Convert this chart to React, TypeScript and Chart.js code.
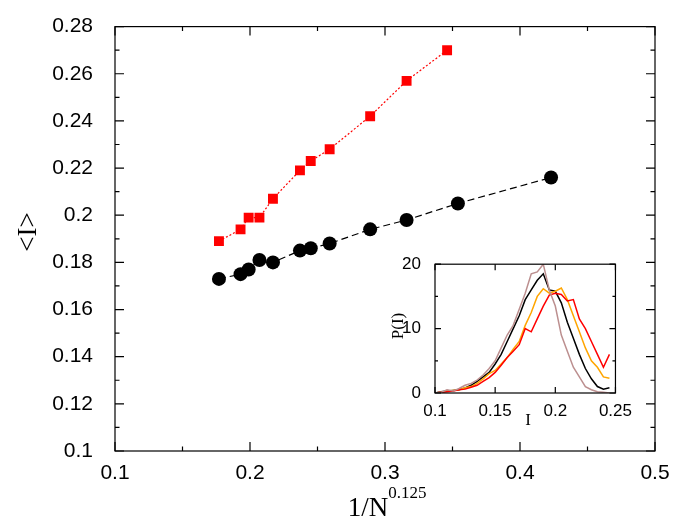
import React, { useEffect, useRef } from "react";
import { Chart, registerables } from "chart.js";

Chart.register(...registerables);

// main plot: <I> against 1/N^0.125
const blackX = [0.177, 0.193, 0.199, 0.207, 0.217, 0.237, 0.245, 0.259, 0.289, 0.316, 0.354, 0.423];
const blackY = [0.173, 0.175, 0.177, 0.181, 0.180, 0.185, 0.186, 0.188, 0.194, 0.198, 0.205, 0.216];
const redX = [0.177, 0.193, 0.199, 0.207, 0.217, 0.237, 0.245, 0.259, 0.289, 0.316, 0.346];
const redY = [0.189, 0.194, 0.199, 0.199, 0.207, 0.219, 0.223, 0.228, 0.242, 0.257, 0.270];

// inset: P(I)
const insetI = [0.1, 0.105, 0.11, 0.115, 0.12, 0.125, 0.13, 0.135, 0.14, 0.145, 0.15, 0.155, 0.16, 0.165, 0.17, 0.175, 0.18, 0.185, 0.19, 0.195, 0.2, 0.205, 0.21, 0.215, 0.22, 0.225, 0.23, 0.235, 0.24, 0.245];
const pBlack = [0, 0.2, 0.3, 0.4, 0.5, 0.8, 1.2, 1.8, 2.5, 3.2, 4.5, 6, 8, 10, 12, 14.5, 16, 17.5, 18.5, 16, 15.8, 14, 11, 8.5, 6, 3.8, 2.2, 1, 0.6, 0.8];
const pBrown = [0, 0.1, 0.5, 0.3, 0.7, 1.2, 1.5, 2, 2.8, 3.8, 5, 7, 9, 10.5, 13, 15.5, 18.5, 18.8, 20, 16, 13.5, 9, 6.5, 4, 2.5, 1, 0.5, 0.2, 0.1, 0];
const pOrange = [0, 0.1, 0.3, 0.4, 0.5, 0.8, 1, 1.5, 2.2, 3, 3.5, 4.5, 5.5, 6.8, 8, 10.5, 12.5, 15, 16.2, 15.5, 15.8, 16.3, 14.5, 12, 9.5, 7, 5, 4, 2.5, 2.3];
const pRed = [0, 0.1, 0.2, 0.3, 0.5, 0.6, 0.9, 1.2, 1.8, 2.4, 3.2, 4.3, 5.5, 6.5, 7.5, 10, 9.5, 11.5, 13.5, 15.2, 15.5, 15.3, 14.3, 14.5, 11.5, 10, 8, 6, 4, 6];

const tickFont = "Liberation Sans, Arial, sans-serif";
const serif = "Liberation Serif, Times New Roman, serif";

const pts = (xs: number[], ys: number[]) => xs.map((x, i) => ({ x, y: ys[i] }));
const fmt = (v: any) => String(+(+v).toFixed(2));

// inward ticks on all four sides plus frame
const frame = (xStep: number, xMinor: number, yStep: number, yMinor: number, len: number) => ({
  id: "frame",
  afterDraw(chart: any) {
    const { ctx, chartArea: a, scales } = chart;
    const xs = scales.x, ys = scales.y;
    ctx.save();
    ctx.strokeStyle = "#000";
    ctx.lineWidth = 1.2;
    ctx.strokeRect(a.left, a.top, a.right - a.left, a.bottom - a.top);
    const n = Math.round((xs.max - xs.min) / xMinor);
    for (let i = 0; i <= n; i++) {
      const v = xs.min + i * xMinor;
      const px = xs.getPixelForValue(v);
      const major = Math.abs(v / xStep - Math.round(v / xStep)) < 1e-6;
      const l = major ? len : len / 2;
      ctx.beginPath();
      ctx.moveTo(px, a.bottom); ctx.lineTo(px, a.bottom - l);
      ctx.moveTo(px, a.top); ctx.lineTo(px, a.top + l);
      ctx.stroke();
    }
    const m = Math.round((ys.max - ys.min) / yMinor);
    for (let i = 0; i <= m; i++) {
      const v = ys.min + i * yMinor;
      const py = ys.getPixelForValue(v);
      const major = Math.abs((v - ys.min) / yStep - Math.round((v - ys.min) / yStep)) < 1e-6;
      const l = major ? len : len / 2;
      ctx.beginPath();
      ctx.moveTo(a.left, py); ctx.lineTo(a.left + l, py);
      ctx.moveTo(a.right, py); ctx.lineTo(a.right - l, py);
      ctx.stroke();
    }
    ctx.restore();
  },
});

const mainTitles = {
  id: "mainTitles",
  afterDraw(chart: any) {
    const { ctx } = chart;
    ctx.save();
    ctx.fillStyle = "#000";
    ctx.textBaseline = "alphabetic";
    ctx.font = `27px ${serif}`;
    const base = "1/N";
    const w = ctx.measureText(base).width;
    ctx.font = `17px ${serif}`;
    const sw = ctx.measureText("0.125").width;
    const x0 = 387 - (w + sw) / 2;
    ctx.font = `27px ${serif}`;
    ctx.fillText(base, x0, 516);
    ctx.font = `17px ${serif}`;
    ctx.fillText("0.125", x0 + w, 498);
    ctx.translate(36, 232);
    ctx.rotate(-Math.PI / 2);
    ctx.textAlign = "center";
    ctx.font = `27px ${serif}`;
    ctx.fillText("<I>", 0, 0);
    ctx.restore();
  },
};

const insetTitles = {
  id: "insetTitles",
  afterDraw(chart: any) {
    const { ctx } = chart;
    ctx.save();
    ctx.fillStyle = "#000";
    ctx.textAlign = "center";
    ctx.font = `17px ${serif}`;
    ctx.fillText("I", 138, 177);
    ctx.translate(13, 78);
    ctx.rotate(-Math.PI / 2);
    ctx.fillText("P(I)", 0, 0);
    ctx.restore();
  },
};

function MainChart() {
  const ref = useRef<HTMLCanvasElement>(null);
  useEffect(() => {
    if (!ref.current) return;
    const chart = new Chart(ref.current, {
      type: "scatter",
      data: {
        datasets: [
          {
            data: pts(redX, redY),
            showLine: true,
            borderColor: "#ff0000",
            borderWidth: 1.2,
            borderDash: [2, 2],
            backgroundColor: "#ff0000",
            pointStyle: "rect",
            pointRadius: 7,
            pointBorderWidth: 0,
          },
          {
            data: pts(blackX, blackY),
            showLine: true,
            borderColor: "#000",
            borderWidth: 1.2,
            borderDash: [7, 4],
            backgroundColor: "#000",
            pointRadius: 7,
            pointBorderWidth: 0,
          },
        ],
      },
      options: {
        animation: false,
        responsive: false,
        layout: { padding: { top: 10, right: 35, left: 0, bottom: 0 } },
        plugins: { legend: { display: false }, tooltip: { enabled: false } },
        scales: {
          x: {
            type: "linear", min: 0.1, max: 0.5,
            grid: { display: false }, border: { display: false },
            ticks: { stepSize: 0.1, color: "#000", font: { family: tickFont, size: 21 }, padding: 2, callback: fmt },
            afterFit: (s: any) => { s.height = 73; },
          },
          y: {
            type: "linear", min: 0.1, max: 0.28,
            grid: { display: false }, border: { display: false },
            ticks: { stepSize: 0.02, color: "#000", font: { family: tickFont, size: 21 }, padding: 14, callback: fmt },
            afterFit: (s: any) => { s.width = 115; },
          },
        },
      },
      plugins: [frame(0.1, 0.05, 0.02, 0.01, 9), mainTitles],
    });
    return () => chart.destroy();
  }, []);
  return <canvas ref={ref} width={690} height={524} style={{ position: "absolute", left: 0, top: 0 }} />;
}

function InsetChart() {
  const ref = useRef<HTMLCanvasElement>(null);
  useEffect(() => {
    if (!ref.current) return;
    const line = (ys: number[], color: string) => ({
      data: pts(insetI, ys),
      showLine: true,
      borderColor: color,
      borderWidth: 1.5,
      pointRadius: 0,
    });
    const chart = new Chart(ref.current, {
      type: "scatter",
      data: {
        datasets: [line(pBrown, "#bc8f8f"), line(pRed, "#ff0000"), line(pOrange, "#ffa500"), line(pBlack, "#000000")],
      },
      options: {
        animation: false,
        responsive: false,
        layout: { padding: { top: 2, right: 9, left: 0, bottom: 0 } },
        plugins: { legend: { display: false }, tooltip: { enabled: false } },
        scales: {
          x: {
            type: "linear", min: 0.1, max: 0.25,
            grid: { display: false }, border: { display: false },
            ticks: { stepSize: 0.05, color: "#000", font: { family: tickFont, size: 17 }, padding: 0, callback: fmt },
            afterFit: (s: any) => { s.height = 47; },
          },
          y: {
            type: "linear", min: 0, max: 20,
            grid: { display: false }, border: { display: false },
            ticks: { stepSize: 10, color: "#000", font: { family: tickFont, size: 17 }, padding: 6 },
            afterFit: (s: any) => { s.width = 45; },
          },
        },
      },
      plugins: [frame(0.05, 0.05, 10, 5, 6), insetTitles],
    });
    return () => chart.destroy();
  }, []);
  return <canvas ref={ref} width={242} height={192} style={{ position: "absolute", left: 390, top: 248, background: "#fff" }} />;
}

export default function App() {
  useEffect(() => {
    document.body.style.margin = "0";
  }, []);
  return (
    <div style={{ position: "relative", width: 690, height: 524, background: "#fff" }}>
      <MainChart />
      <InsetChart />
    </div>
  );
}
